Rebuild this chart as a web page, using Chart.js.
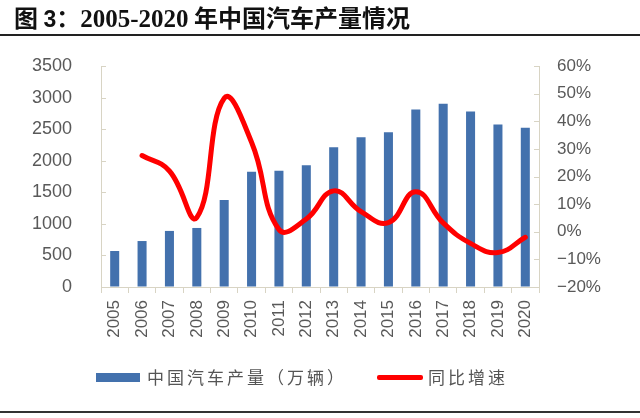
<!DOCTYPE html>
<html><head><meta charset="utf-8">
<script src="https://cdn.jsdelivr.net/npm/chart.js@4.4.1/dist/chart.umd.min.js"></script>
<style>
html,body{margin:0;padding:0;background:#fff;}
#wrap{position:relative;width:640px;height:418px;overflow:hidden;background:#fff;}
#title{position:absolute;left:14px;top:2px;font-size:24px;font-weight:bold;color:#111;white-space:nowrap;font-family:"Noto Sans CJK SC";line-height:30px;}
#title .num{font-family:"Liberation Serif";font-size:25px;}
#title .n3{font-family:"Liberation Sans";font-size:23px;}
#topline{position:absolute;left:0;top:34px;width:640px;height:2px;background:#222;}
#botline{position:absolute;left:0;top:411px;width:640px;height:2px;background:#333;}
#c{position:absolute;left:0;top:0;}
.leg{position:absolute;top:364px;font-family:"Noto Sans CJK SC";font-size:17px;color:#555;letter-spacing:3px;line-height:26px;white-space:nowrap;}
.sw{position:absolute;}
</style></head>
<body>
<div id="wrap">
<canvas id="c" width="640" height="418"></canvas>
<div id="title">图 <span class="n3">3</span>：<span class="num">2005-2020</span> 年中国汽车产量情况</div>
<div id="topline"></div>
<div class="sw" style="left:96px;top:373px;width:44px;height:9px;background:#4371AD;"></div>
<div class="leg" style="left:147px;">中国汽车产量（万辆）</div>
<div class="sw" style="left:377px;top:375px;width:46px;height:5px;background:#FF0000;border-radius:2px;"></div>
<div class="leg" style="left:428px;">同比增速</div>
<div id="botline"></div>
</div>
<script>
const years = ['2005','2006','2007','2008','2009','2010','2011','2012','2013','2014','2015','2016','2017','2018','2019','2020'];
const production = [570,728,888,935,1379,1827,1842,1927,2212,2372,2450,2812,2902,2781,2572,2523];
const growth = [null,27.6,22.0,5.2,48.3,32.4,0.8,4.6,14.8,7.3,3.3,14.5,3.2,-4.2,-7.5,-2.0];
const seriesNames = ['中国汽车产量（万辆）','同比增速'];

const axisColor = '#D8D4C4';
const labelColor = '#595959';

const innerTicks = {
  id:'innerTicks',
  afterDraw(chart){
    const ctx = chart.ctx;
    ctx.save();
    ctx.strokeStyle = axisColor;
    ctx.lineWidth = 1;
    ['y','y1'].forEach(id=>{
      const s = chart.scales[id];
      s.ticks.forEach(t=>{
        const py = Math.round(s.getPixelForValue(t.value))+0.5;
        ctx.beginPath();
        if(id==='y'){ ctx.moveTo(s.right, py); ctx.lineTo(s.right+5, py); }
        else { ctx.moveTo(s.left, py); ctx.lineTo(s.left-5, py); }
        ctx.stroke();
      });
    });
    ctx.restore();
  }
};

new Chart(document.getElementById('c'), {
  data:{
    labels: years,
    datasets:[
      {type:'line', label:seriesNames[1], data:growth, yAxisID:'y1', borderColor:'#FF0000', borderWidth:5, pointRadius:0, tension:0.45, fill:false, order:0, spanGaps:false, borderCapStyle:'round'},
      {type:'bar', label:seriesNames[0], data:production, yAxisID:'y', backgroundColor:'#4371AD', categoryPercentage:1, barPercentage:0.33, order:1}
    ]
  },
  options:{
    responsive:false,
    animation:false,
    devicePixelRatio:1,
    layout:{padding:{top:66, left:0, right:0, bottom:68}},
    plugins:{legend:{display:false}, tooltip:{enabled:false}},
    scales:{
      x:{
        grid:{offset:true, drawOnChartArea:false, color:axisColor, tickLength:6},
        border:{color:axisColor},
        ticks:{minRotation:90, maxRotation:90, autoSkip:false, color:labelColor, font:{family:'Liberation Sans', size:17}, padding:7},
        afterFit(s){ s.height = 63; }
      },
      y:{
        position:'left', min:0, max:3500,
        ticks:{stepSize:500, color:labelColor, font:{family:'Liberation Sans', size:18}, padding:29,
          callback:v=>String(v)},
        grid:{drawOnChartArea:false, drawTicks:false},
        border:{color:axisColor},
        afterFit(s){ s.width = 101; }
      },
      y1:{
        position:'right', min:-20, max:60,
        ticks:{stepSize:10, color:labelColor, font:{family:'Liberation Sans', size:17}, padding:18,
          callback:v=>String(v).replace('-','\u2212')+'%'},
        grid:{drawOnChartArea:false, drawTicks:false},
        border:{color:axisColor},
        afterFit(s){ s.width = 101; }
      }
    }
  },
  plugins:[innerTicks]
});
</script>
</body></html>
